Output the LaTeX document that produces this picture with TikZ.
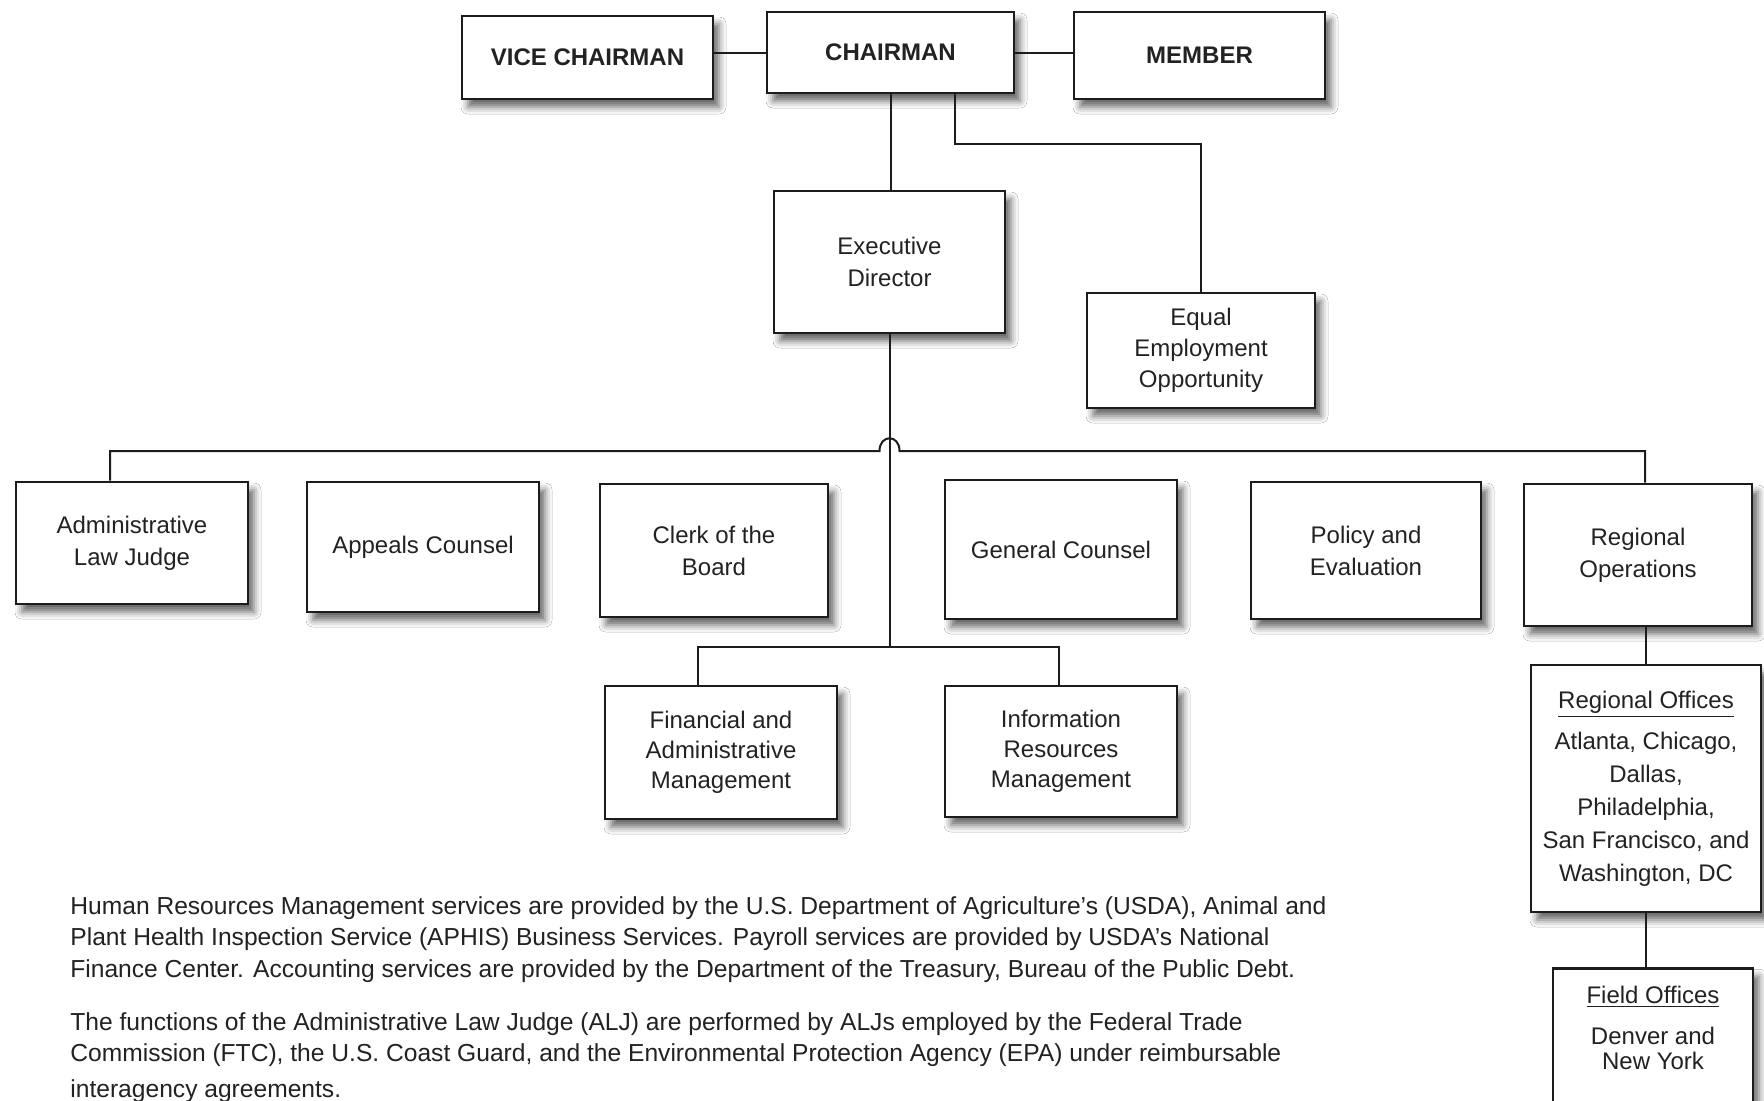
\documentclass[tikz,border=0pt]{standalone}
\usepackage{fontspec}
\setmainfont{Liberation Sans}
\usepackage{tikz}
\usetikzlibrary{shadows.blur,calc,positioning}
\definecolor{colorLine}{HTML}{1c1c1c}
\definecolor{colorText}{HTML}{222222}

\begin{document}
\begin{tikzpicture}[x=0.5pt,y=-0.5pt,
        orgBox/.style={draw=colorLine,line width=1.3pt,fill=white,align=center,
            text=colorText,inner sep=2pt,font=\fontsize{12}{16}\selectfont,
            blur shadow={shadow xshift=3pt,shadow yshift=-4pt,shadow blur radius=3.5pt,shadow opacity=60}},
        topBox/.style={orgBox,font=\fontsize{12}{14}\selectfont\bfseries},
        connector/.style={draw=colorLine,line width=1pt},
        noteText/.style={anchor=north west,align=left,inner sep=0pt,text=colorText,
            font=\fontsize{12.3}{15.8}\selectfont}]
    \useasboundingbox (0,0) rectangle (1764,1100);
    \clip (0,0) rectangle (1764,1100);
    \fill[white] (0,0) rectangle (1764,1100);

    % board
    \node[topBox,minimum width=125.5pt,minimum height=41.5pt] (vice) at (587.5,57.5) {VICE CHAIRMAN};
    \node[topBox,minimum width=123.5pt,minimum height=40.5pt] (chair) at (890.5,52.5) {CHAIRMAN};
    \node[topBox,minimum width=125.5pt,minimum height=43.5pt] (member) at (1199.5,55.5) {MEMBER};

    \node[orgBox,minimum width=115.5pt,minimum height=71pt] (exec) at (889.5,262) {Executive\\Director};
    \node[orgBox,minimum width=114pt,minimum height=57.5pt,font=\fontsize{12}{15.5}\selectfont] (eeo) at (1201,350.5) {Equal\\Employment\\Opportunity};

    % offices
    \node[orgBox,minimum width=116pt,minimum height=61pt] (alj) at (132,543) {Administrative\\Law Judge};
    \node[orgBox,minimum width=116pt,minimum height=65pt] (appeals) at (423,547) {Appeals Counsel};
    \node[orgBox,minimum width=114pt,minimum height=66.5pt] (clerk) at (714,550.5) {Clerk of the\\Board};
    \node[orgBox,minimum width=116pt,minimum height=69.5pt] (gc) at (1061,549.5) {General Counsel};
    \node[orgBox,minimum width=115pt,minimum height=68.5pt] (policy) at (1366,550.5) {Policy and\\Evaluation};
    \node[orgBox,minimum width=114pt,minimum height=71pt] (regops) at (1638,555) {Regional\\Operations};

    \node[orgBox,minimum width=116pt,minimum height=66.5pt,font=\fontsize{12}{15}\selectfont] (fin) at (721,752.5) {Financial and\\Administrative\\Management};
    \node[orgBox,minimum width=116pt,minimum height=65.5pt,font=\fontsize{12}{15}\selectfont] (irm) at (1061,751.5) {Information\\Resources\\Management};

    \node[orgBox,minimum width=115pt,minimum height=123.5pt,font=\fontsize{12}{16.5}\selectfont] (regoff) at (1646,788.5)
        {\underline{Regional Offices}\\[4pt]Atlanta, Chicago,\\Dallas,\\Philadelphia,\\San Francisco, and\\Washington, DC};
    \node[orgBox,anchor=north,minimum width=100pt,inner ysep=9pt,font=\fontsize{12}{12.5}\selectfont] (field) at (1653,967)
        {\underline{Field Offices}\\[8pt]Denver and\\New York\\[30pt]~};

    % lines
    \coordinate (busHop) at (889.5,451);
    \coordinate (lowBus) at (889.5,647);
    \coordinate (eeoJoin) at (1201,144);

    \draw[connector] (chair.west -| vice.east) -- (chair.west);
    \draw[connector] (chair.east) -- (chair.east -| member.west);
    \draw[connector] (chair.south) -- (chair.south |- exec.north);
    \draw[connector] ($(chair.south)+(64,0)$) |- (eeoJoin) -- (eeo.north);

    \draw[connector] (exec.south) -- (lowBus);
    \draw[connector] ($(alj.north)+(-22,0)$) |- ($(busHop)+(-10,0)$)
        .. controls +(0,-17) and +(0,-17) .. ($(busHop)+(10,0)$) -| ($(regops.north)+(7,0)$);
    \foreach \n/\dx in {appeals/-15,clerk/-14,gc/-7,policy/-7}
        \draw[connector] ($(\n.north)+(\dx,0)$) -- ($(\n.north)+(\dx,0)$ |- busHop);
    \draw[connector] ($(fin.north)+(-23,0)$) |- (lowBus) -| ($(irm.north)+(-2,0)$);

    \draw[connector] (regoff.north |- regops.south) -- (regoff.north);
    \draw[connector] (regoff.south) -- (regoff.south |- field.north);

    % notes
    \node[noteText] (noteA) at (70,896) {\frenchspacing Human Resources Management services are provided by the U.S. Department of Agriculture's (USDA), Animal and\\
        Plant Health Inspection Service (APHIS) Business Services. Payroll services are provided by USDA's National\\
        Finance Center. Accounting services are provided by the Department of the Treasury, Bureau of the Public Debt.};
    \node[noteText] (noteB) at (70,1012) {\frenchspacing The functions of the Administrative Law Judge (ALJ) are performed by ALJs employed by the Federal Trade\\
        Commission (FTC), the U.S. Coast Guard, and the Environmental Protection Agency (EPA) under reimbursable\\[2pt]
        interagency agreements.};
\end{tikzpicture}
\end{document}
